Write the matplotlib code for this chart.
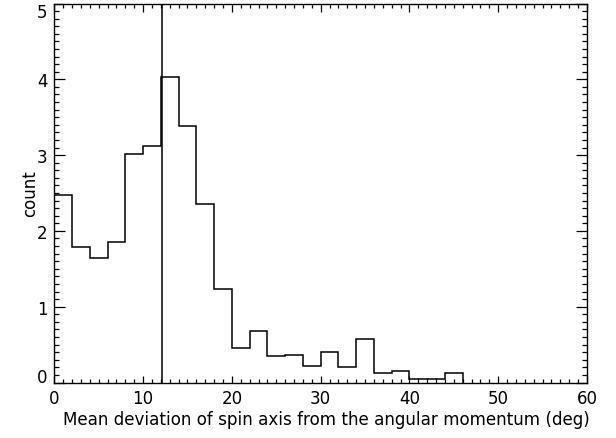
import numpy as np
import matplotlib
matplotlib.use('Agg')
import matplotlib.pyplot as plt
from matplotlib.ticker import MultipleLocator

# Histogram bin edges (deg) and counts
bin_edges = [0, 2, 4, 6, 8, 10, 12, 14, 16, 18, 20, 22, 24,
             26, 28, 30, 32, 34, 36, 38, 40, 42, 44, 46]
counts = [2.48, 1.79, 1.64, 1.85, 3.01, 3.12, 4.03, 3.39, 2.36, 1.24,
          0.45, 0.68, 0.35, 0.36, 0.22, 0.40, 0.20, 0.57, 0.125, 0.15,
          0.04, 0.05, 0.13]
mean_dev = 12.16
y_ticks = [0, 1, 2, 3, 4, 5]

fig = plt.figure(figsize=(6.16, 4.39), dpi=100)
ax = fig.add_axes([54.3 / 616, 1 - 383.5 / 439, (587 - 54.3) / 616, (383.5 - 4.5) / 439])

ax.stairs(counts, bin_edges, color='black', lw=1.1)
ax.axvline(mean_dev, color='black', lw=1.1)

ax.xaxis.set_major_locator(MultipleLocator(10))
ax.xaxis.set_minor_locator(MultipleLocator(1))
ax.set_yticks(y_ticks)
ax.yaxis.set_minor_locator(MultipleLocator(0.1))
ax.set_xlim(0, 60)
ax.set_ylim(0, 5)

ax.tick_params(axis='both', which='both', direction='in', top=True, right=True,
               labelsize=12, colors='black', width=0.9)
ax.tick_params(axis='x', which='major', length=5.4, pad=5)
ax.tick_params(axis='x', which='minor', length=2.7)
ax.tick_params(axis='y', which='major', length=7.7, pad=5)
ax.tick_params(axis='y', which='minor', length=3.8)
for s in ax.spines.values():
    s.set_linewidth(1.0)

# keep the end labels inside the figure, like the original
ticks = ax.yaxis.get_major_ticks()
ticks[0].label1.set_verticalalignment('baseline')
ticks[-1].label1.set_verticalalignment('top')

ax.set_xlabel('Mean deviation of spin axis from the angular momentum (deg)',
              fontsize=12.1)
ax.xaxis.set_label_coords(0.51, -0.073)
ax.set_ylabel('count', fontsize=12, labelpad=-2)

fig.savefig('out.png', dpi=100)
